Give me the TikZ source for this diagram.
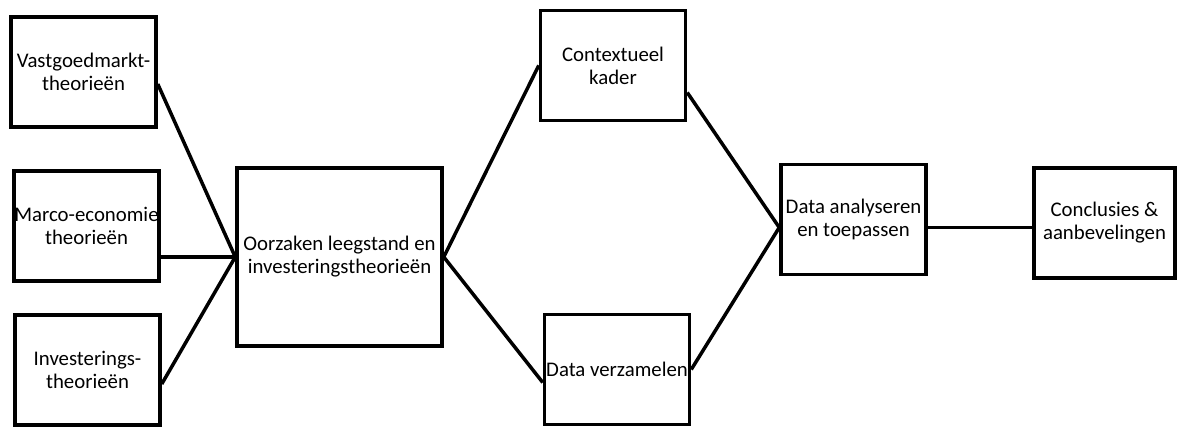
\documentclass[tikz,border=0pt]{standalone}
\usepackage{fontspec}
\setmainfont{Carlito}
\begin{document}
\begin{tikzpicture}[x=1pt,y=-1pt,line width=3.5pt,
  box/.style={draw,rectangle,inner sep=0pt,align=center,minimum width=145pt,minimum height=110pt,font=\fontsize{20.8}{23}\selectfont}]
	\useasboundingbox (0,0) rectangle (1178,427);
	\node[box] (vast) at (83.5,72) {Vastgoedmarkt-\\theorieën};
	\node[box] (marco) at (86.5,226) {Marco-economie\\theorieën};
	\node[box] (inv) at (87.5,370) {Investerings-\\theorieën};
	\node[box,minimum width=205pt,minimum height=178pt] (oorz) at (339.5,257) {Oorzaken leegstand en\\investeringstheorieën};
	\node[box] (ctx) at (613,65.5) {Contextueel\\kader};
	\node[box] (dver) at (617,369.5) {Data verzamelen};
	\node[box] (dan) at (853.5,219.5) {Data analyseren\\en toepassen};
	\node[box,minimum width=141pt] (concl) at (1104.5,223) {Conclusies \&\\aanbevelingen};
	% theorie naar oorzaken
	\draw ([yshift=-12pt]vast.east) -- (oorz.west);
	\draw (marco.east |- oorz.west) -- (oorz.west);
	\draw ([yshift=-14pt]inv.east) -- (oorz.west);
	% oorzaken naar kader en data
	\draw (oorz.east) -- (ctx.west);
	\draw (oorz.east) -- ([yshift=-13pt]dver.west);
	\draw ([yshift=-27pt]ctx.east) -- ([yshift=-8pt]dan.west);
	\draw (dver.east) -- ([yshift=-8pt]dan.west);
	\draw ([yshift=-8pt]dan.east) -- ([yshift=-8pt]dan.east -| concl.west);
\end{tikzpicture}
\end{document}
